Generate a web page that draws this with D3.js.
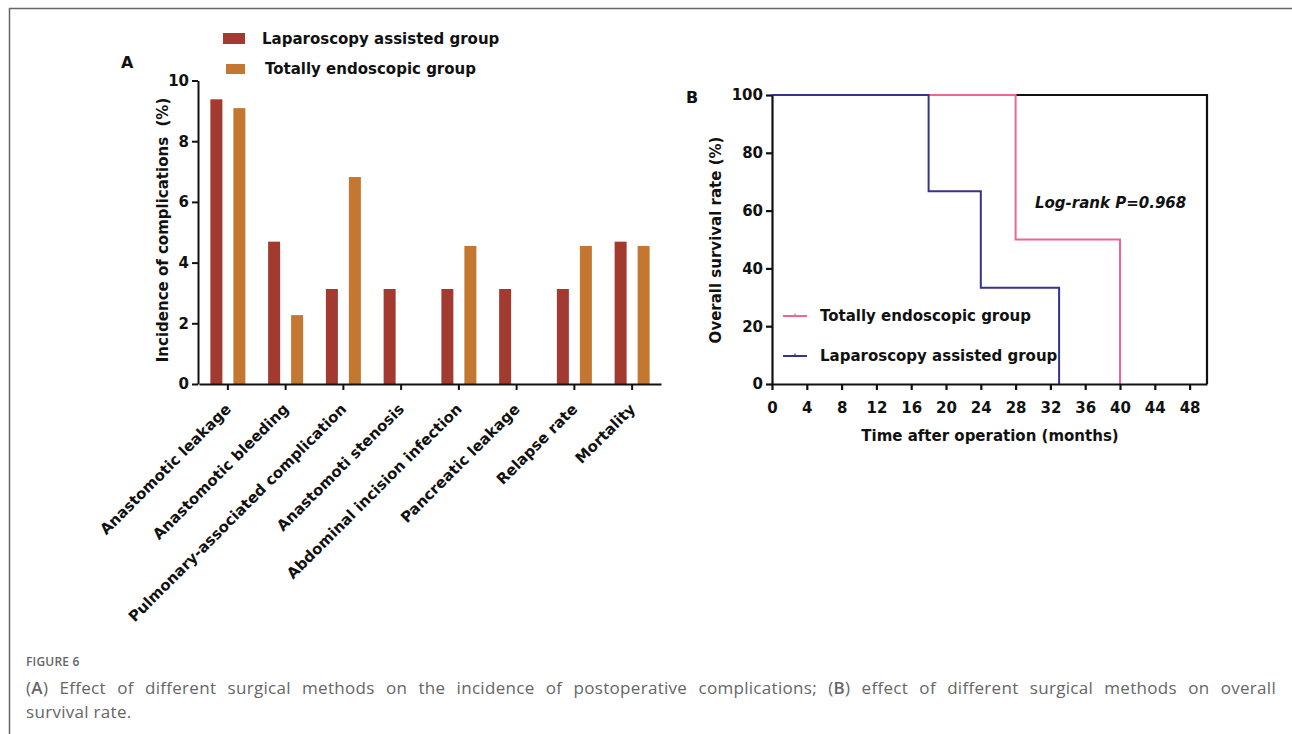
<!DOCTYPE html>
<html>
<head>
<meta charset="utf-8">
<script src="https://cdn.jsdelivr.net/npm/d3@7"></script>
<style>
body { margin: 0; background: #fff; }
#wrap { position: relative; width: 1292px; height: 734px; overflow: hidden; }
svg { position: absolute; left: 0; top: 0; }
.bold { font-family: "DejaVu Sans", sans-serif; font-weight: bold; fill: #111; }
#caption { position: absolute; left: 26px; top: 654px; width: 1250px; font-family: "Open Sans", sans-serif; color: #666; }
#caption .fig { font-size: 12px; font-weight: 600; letter-spacing: 0.2px; line-height: 16px; }
#caption .txt { font-size: 17px; letter-spacing: 0.3px; line-height: 24px; white-space: nowrap; }
#caption .first { margin-top: 6px; text-align: justify; text-align-last: justify; }
#caption b { font-weight: 600; }
</style>
</head>
<body>
<div id="wrap">
<svg id="viz" width="1292" height="734"></svg>
<div id="caption">
  <div class="fig">FIGURE 6</div>
  <div class="txt first">(<b>A</b>) Effect of different surgical methods on the incidence of postoperative complications; (<b>B</b>) effect of different surgical methods on overall</div>
  <div class="txt">survival rate.</div>
</div>
</div>
<script>
// Panel A data
var categories = ["Anastomotic leakage", "Anastomotic bleeding", "Pulmonary-associated complication",
	"Anastomoti stenosis", "Abdominal incision infection", "Pancreatic leakage", "Relapse rate", "Mortality"];
var lapValues = [9.38, 4.69, 3.13, 3.13, 3.13, 3.13, 3.13, 4.69];
var endoValues = [9.09, 2.27, 6.82, 0, 4.55, 0, 4.55, 4.55];
var yTicksA = [0, 2, 4, 6, 8, 10];

// Panel B data (Kaplan-Meier steps: time, survival %)
var lapSurvival = [[0, 100], [18, 100], [18, 66.7], [24, 66.7], [24, 33.3], [33, 33.3], [33, 0]];
var endoSurvival = [[0, 100], [28, 100], [28, 50], [40, 50], [40, 0]];
var xTicksB = [0, 4, 8, 12, 16, 20, 24, 28, 32, 36, 40, 44, 48];
var yTicksB = [0, 20, 40, 60, 80, 100];

var RED = "#a33a2f";
var ORANGE = "#c47731";
var PINK = "#f0668f";
var NAVY = "#34348a";

var svg = d3.select("#viz");

// frame of the figure
svg.append("path")
	.attr("d", "M 9.5 734 L 9.5 8.5 L 1292 8.5")
	.attr("stroke", "#666")
	.attr("stroke-width", 1.5)
	.attr("fill", "none");

// ---------- Panel A ----------
var xA = d3.scaleBand().domain(categories).range([199, 661]).padding(0);
var yA = d3.scaleLinear().domain([0, 10]).range([384, 80.5]);
var BAR_W = 12;
var BAR_OFF = 11.5;

var gA = svg.append("g");

gA.selectAll("rect.lap").data(lapValues).enter().append("rect")
	.attr("x", function(d, i) { return xA(categories[i]) + xA.bandwidth() / 2 - BAR_OFF - BAR_W / 2; })
	.attr("y", function(d) { return yA(d); })
	.attr("width", BAR_W)
	.attr("height", function(d) { return yA(0) - yA(d); })
	.attr("fill", RED);

gA.selectAll("rect.endo").data(endoValues).enter().append("rect")
	.attr("x", function(d, i) { return xA(categories[i]) + xA.bandwidth() / 2 + BAR_OFF - BAR_W / 2; })
	.attr("y", function(d) { return yA(d); })
	.attr("width", BAR_W)
	.attr("height", function(d) { return yA(0) - yA(d); })
	.attr("fill", ORANGE);

var axisYA = gA.append("g")
	.attr("transform", "translate(198,0)")
	.call(d3.axisLeft(yA).tickValues(yTicksA).tickSize(6).tickSizeOuter(0).tickPadding(3));

var axisXA = gA.append("g")
	.attr("transform", "translate(0,384)")
	.call(d3.axisBottom(xA).tickSize(6).tickSizeOuter(0));

axisXA.selectAll("text")
	.attr("class", "bold")
	.style("font-size", "15px")
	.attr("text-anchor", "end")
	.attr("x", 0).attr("y", 0).attr("dy", 0)
	.attr("transform", "translate(4,26) rotate(-45)");

axisYA.selectAll("text")
	.attr("class", "bold")
	.style("font-size", "15px");

[axisYA, axisXA].forEach(function(a) {
	a.selectAll("path, line").attr("stroke", "#111").attr("stroke-width", 2);
});

gA.append("text").attr("class", "bold")
	.attr("transform", "translate(168,230) rotate(-90)")
	.attr("text-anchor", "middle")
	.style("font-size", "15px")
	.attr("xml:space", "preserve")
	.text("Incidence of complications  (%)");

gA.append("text").attr("class", "bold")
	.attr("x", 121).attr("y", 68)
	.style("font-size", "16px")
	.text("A");

// legend A
var legA = [{label: "Laparoscopy assisted group", color: RED, x: 223, y: 33, w: 22, h: 11, tx: 262},
	{label: "Totally endoscopic group", color: ORANGE, x: 226, y: 64, w: 19, h: 10, tx: 265}];
legA.forEach(function(l) {
	gA.append("rect").attr("x", l.x).attr("y", l.y).attr("width", l.w).attr("height", l.h).attr("fill", l.color);
	gA.append("text").attr("class", "bold")
		.attr("x", l.tx).attr("y", l.y + l.h / 2)
		.attr("dy", "0.36em")
		.style("font-size", "15px")
		.text(l.label);
});

// ---------- Panel B ----------
var xB = d3.scaleLinear().domain([0, 50]).range([772, 1207]);
var yB = d3.scaleLinear().domain([0, 100]).range([384, 95]);

var gB = svg.append("g");

var line = d3.line().x(function(d) { return xB(d[0]); }).y(function(d) { return yB(d[1]); });

// top and right border
gB.append("path")
	.attr("d", "M " + xB(0) + " " + yB(100) + " L " + xB(50) + " " + yB(100) + " L " + xB(50) + " " + yB(0))
	.attr("stroke", "#111").attr("stroke-width", 2.2).attr("fill", "none");

gB.append("path").datum(endoSurvival).attr("d", line)
	.attr("stroke", PINK).attr("stroke-width", 2).attr("fill", "none");
gB.append("path").datum(lapSurvival).attr("d", line)
	.attr("stroke", NAVY).attr("stroke-width", 2).attr("fill", "none");

var axisXB = gB.append("g")
	.attr("transform", "translate(0," + yB(0) + ")")
	.call(d3.axisBottom(xB).tickValues(xTicksB).tickSize(6).tickSizeOuter(0).tickPadding(12));
var axisYB = gB.append("g")
	.attr("transform", "translate(" + xB(0) + ",0)")
	.call(d3.axisLeft(yB).tickValues(yTicksB).tickSize(6).tickSizeOuter(0).tickPadding(3));

[axisXB, axisYB].forEach(function(a) {
	a.selectAll("path, line").attr("stroke", "#111").attr("stroke-width", 2.2);
	a.selectAll("text").attr("class", "bold").style("font-size", "15px");
});

gB.append("text").attr("class", "bold")
	.attr("x", 990).attr("y", 441)
	.attr("text-anchor", "middle")
	.style("font-size", "15px")
	.text("Time after operation (months)");

gB.append("text").attr("class", "bold")
	.attr("transform", "translate(721,240) rotate(-90)")
	.attr("text-anchor", "middle")
	.style("font-size", "15px")
	.text("Overall survival rate (%)");

gB.append("text").attr("class", "bold")
	.attr("x", 686).attr("y", 103)
	.style("font-size", "16px")
	.text("B");

gB.append("text").attr("class", "bold")
	.attr("x", 1035).attr("y", 208)
	.style("font-size", "15px")
	.style("font-style", "italic")
	.text("Log-rank P=0.968");

// legend B
var legB = [{label: "Totally endoscopic group", color: PINK, y: 316},
	{label: "Laparoscopy assisted group", color: NAVY, y: 356}];
legB.forEach(function(l) {
	gB.append("line").attr("x1", 783).attr("x2", 807).attr("y1", l.y).attr("y2", l.y)
		.attr("stroke", l.color).attr("stroke-width", 2);
	gB.append("line").attr("x1", 795).attr("x2", 795).attr("y1", l.y - 2.5).attr("y2", l.y + 0.5)
		.attr("stroke", l.color).attr("stroke-width", 1.2);
	gB.append("text").attr("class", "bold")
		.attr("x", 820).attr("y", l.y)
		.attr("dy", "0.36em")
		.style("font-size", "15px")
		.text(l.label);
});
</script>
</body>
</html>
